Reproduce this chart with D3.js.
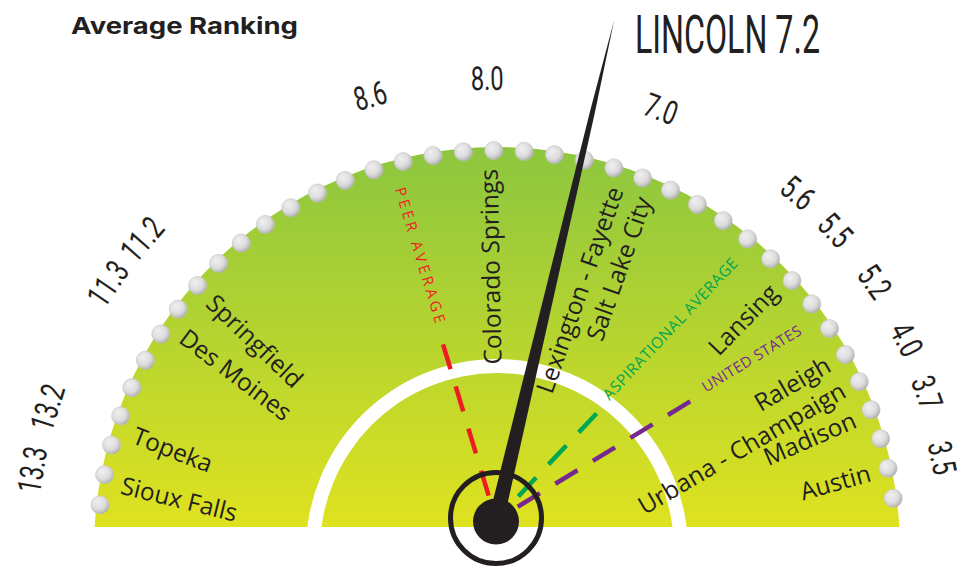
<!DOCTYPE html>
<html><head><meta charset="utf-8">
<script src="https://cdn.jsdelivr.net/npm/d3@7"></script>
<style>body{margin:0;background:#fff}svg{display:block}</style>
</head><body>
<svg id="chart" width="964" height="567"></svg>
<script>
// ---------- data ----------
const title = "Average Ranking";
const focusName = "LINCOLN";
const focusValue = 7.2;
const cityNames = ["Sioux Falls","Topeka","Des Moines","Springfield","Colorado Springs","Lexington - Fayette","Salt Lake City","Lansing","Raleigh","Urbana - Champaign","Madison","Austin"];
const cityValues = [13.3,13.2,11.3,11.2,8.0,7.0,7.0,5.5,4.0,4.0,3.7,3.5];
const averageNames = ["PEER AVERAGE","ASPIRATIONAL AVERAGE","UNITED STATES"];
const averageValues = [8.6,5.6,5.2];
const tickValues = [13.3,13.2,11.3,11.2,8.6,8.0,7.0,5.6,5.5,5.2,4.0,3.7,3.5];

// ---------- gauge layout (the original dial is hand-spaced, so the angle scale is piecewise) ----------
const angleDomain = [13.3,13.2,11.3,11.2,8.6,8.0,7.2,7.0,5.6,5.5,5.2,4.0,3.7,3.5];
const angleRange  = [-80.2,-72.4,-55.6,-48.8,-15.6,-1.2,13.3,20.4,40.1,46.6,54.6,62.8,69.9,78.3];
const angle = d3.scaleLinear().domain(angleDomain).range(angleRange);

const avgStyles = [
  {color:"#ed1c24", spacing:3.4, size:15},
  {color:"#00a651", spacing:0.6, size:15.5},
  {color:"#76288f", spacing:0.4, size:15}
];

const svg = d3.select("#chart");
const C = {x:497, y:550};   // centre of the dial arc
const H = {x:496, y:520};   // needle hub
const baseY = 527;
const ink = "#231f20";
const rad = d => d * Math.PI / 180;
const polar = (o, r, deg) => [o.x + r * Math.sin(rad(deg)), o.y - r * Math.cos(rad(deg))];

// ---------- defs ----------
const defs = svg.append("defs");
const gg = defs.append("linearGradient").attr("id","dialGrad")
  .attr("gradientUnits","userSpaceOnUse").attr("x1",0).attr("y1",147 - C.y).attr("x2",0).attr("y2",baseY - C.y);
gg.append("stop").attr("offset",0).attr("stop-color","#8cc63f");
gg.append("stop").attr("offset",1).attr("stop-color","#dfe220");
const dg = defs.append("radialGradient").attr("id","dotGrad")
  .attr("cx",0.42).attr("cy",0.4).attr("r",0.64).attr("fx",0.36).attr("fy",0.32);
dg.append("stop").attr("offset",0).attr("stop-color","#f0f0f0");
dg.append("stop").attr("offset",0.6).attr("stop-color","#dddddd");
dg.append("stop").attr("offset",0.88).attr("stop-color","#bdbdbd");
dg.append("stop").attr("offset",1).attr("stop-color","#8f8f8f");
defs.append("clipPath").attr("id","baseClip")
  .append("rect").attr("x",0).attr("y",0).attr("width",964).attr("height",baseY);

// ---------- dial ----------
const clipped = svg.append("g").attr("clip-path","url(#baseClip)");
const dial = clipped.append("g").attr("transform",`translate(${C.x},${C.y})`);
dial.append("path")
  .attr("d", d3.arc().innerRadius(0).outerRadius(403).startAngle(-Math.PI/2).endAngle(Math.PI/2)())
  .attr("fill","url(#dialGrad)");
dial.append("path")
  .attr("d", d3.arc().innerRadius(177).outerRadius(191).startAngle(-Math.PI/2).endAngle(Math.PI/2)())
  .attr("fill","#ffffff");

// ---------- bead rim ----------
const beadAngles = d3.range(39).map(i => -83.5 + i * 4.37);
svg.append("g").selectAll("circle").data(beadAngles).join("circle")
  .attr("cx", a => polar(C, 399.5, a)[0])
  .attr("cy", a => polar(C, 399.5, a)[1])
  .attr("r", 9.1)
  .attr("fill","url(#dotGrad)")
  .attr("stroke","#c4c4c4").attr("stroke-width",0.6);

// ---------- city labels ----------
const groups = d3.groups(cityNames.map((n,i)=>({name:n, value:cityValues[i]})), d => d.value);
const cityG = svg.append("g")
  .attr("font-family","'Open Sans', sans-serif").attr("font-size",24.5).attr("fill",ink);
groups.forEach(([v, items]) => {
  const th = angle(v);
  const [px, py] = polar(C, 381, th);
  const right = th > -10;
  const rot = right ? 0.95 * th - 90 : 0.95 * th + 90;
  const t = cityG.append("text")
    .attr("transform",`translate(${px},${py}) rotate(${rot})`)
    .attr("text-anchor", right ? "end" : "start");
  items.forEach((d, i) => {
    t.append("tspan").attr("x",0)
      .attr("y", (i - (items.length - 1) / 2) * 30)
      .attr("dy","0.35em")
      .text(d.name);
  });
});

// ---------- average markers ----------
const avgG = svg.append("g");
averageNames.forEach((name, i) => {
  const v = averageValues[i], st = avgStyles[i];
  const th = angle(v);
  const [ex, ey] = polar(C, 375, th);
  const dx = ex - H.x, dy = ey - H.y, L = Math.hypot(dx, dy);
  const ux = dx / L, uy = dy / L;
  const dirDeg = Math.atan2(ux, -uy) * 180 / Math.PI;
  const inward = th < 0;
  const txt = avgG.append("text")
    .attr("transform",`translate(${ex},${ey}) rotate(${inward ? dirDeg + 90 : dirDeg - 90})`)
    .attr("text-anchor", inward ? "start" : "end")
    .attr("font-family","'Open Sans', sans-serif").attr("font-size",st.size)
    .attr("letter-spacing", st.spacing)
    .attr("fill", st.color)
    .attr("dy", inward ? "0.1em" : "0.05em")
    .text(name);
  const tl = txt.node().getComputedTextLength();
  const lineLen = L - tl - 18;
  avgG.append("line")
    .attr("x1", H.x + ux * lineLen).attr("y1", H.y + uy * lineLen)
    .attr("x2", H.x).attr("y2", H.y)
    .attr("stroke", st.color).attr("stroke-width",4.5)
    .attr("stroke-dasharray","26 18");
});

// ---------- tick values ----------
const fmt = d3.format(".1f");
const tickR = th => th > 0 ? 472 - 0.0028 * th * th : 472;
svg.append("g").attr("font-family","Roboto, sans-serif").attr("font-size",33).attr("fill",ink)
  .selectAll("text").data(tickValues).join("text")
  .attr("transform", v => {
    const th = angle(v);
    const [x, y] = polar(C, tickR(th), th);
    return `translate(${x},${y}) rotate(${th}) scale(0.72,1)`;
  })
  .attr("text-anchor","middle").attr("dy","0.36em")
  .text(fmt);

// ---------- needle ----------
const na = angle(focusValue);
svg.append("path")
  .attr("d", d3.line()([[-7.7,6],[-2.5,-420],[0,-514],[2.5,-420],[7.7,6]]) + "Z")
  .attr("transform",`translate(${H.x},${H.y}) rotate(${na})`)
  .attr("fill", ink);
svg.append("circle").attr("cx",H.x).attr("cy",H.y - 2).attr("r",45.5)
  .attr("fill","none").attr("stroke",ink).attr("stroke-width",5);
svg.append("circle").attr("cx",H.x).attr("cy",H.y + 1.5).attr("r",23).attr("fill",ink);

// ---------- headings ----------
svg.append("text").attr("x",71).attr("y",34)
  .attr("font-family","Inter, 'Open Sans', sans-serif").attr("font-weight",700).attr("font-size",23)
  .attr("textLength",227).attr("lengthAdjust","spacingAndGlyphs")
  .attr("fill",ink).text(title);
svg.append("text").attr("x",635).attr("y",53)
  .attr("font-family","Roboto, sans-serif").attr("font-weight",400).attr("font-size",53)
  .attr("textLength",185).attr("lengthAdjust","spacingAndGlyphs")
  .attr("fill",ink).text(`${focusName} ${fmt(focusValue)}`);
</script>
</body></html>
